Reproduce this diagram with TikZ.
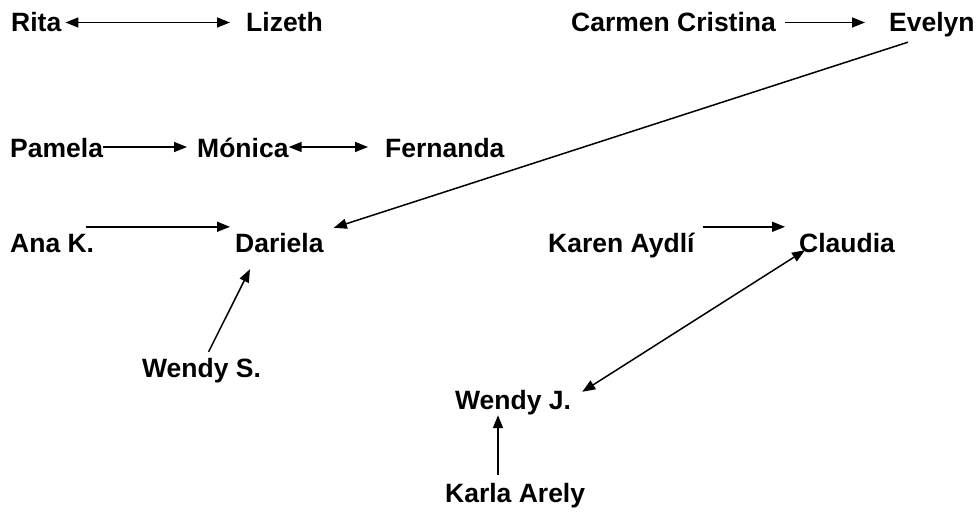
\documentclass[tikz,border=0pt]{standalone}
\usepackage{fontspec}
\setmainfont{Liberation Sans}
\usetikzlibrary{arrows.meta}
\begin{document}
\begin{tikzpicture}[x=1pt,y=1pt,
  person/.style={anchor=base west,inner sep=0pt,text height=19pt,text depth=0pt,
    font=\fontsize{26.5}{30}\selectfont\bfseries},
  tip/.style={Triangle[length=13pt,width=10pt]},
  arr/.style={line width=1.5pt,-{Triangle[length=13pt,width=10pt]}},
  darr/.style={line width=1.5pt,{Triangle[length=13pt,width=10pt]}-{Triangle[length=13pt,width=10pt]}}]
\useasboundingbox[fill=white] (0,0) rectangle (980,514);
\node[person] (rita) at (11,482) {Rita};
\node[person] (lizeth) at (246,482) {Lizeth};
\node[person] (carmen) at (571,482) {Carmen Cristina};
\node[person] (evelyn) at (889,482) {Evelyn};
\node[person] (pamela) at (10,356) {Pamela};
\node[person] (monica) at (197,356) {Mónica};
\node[person] (fernanda) at (385,356) {Fernanda};
\node[person] (ana) at (10,261) {Ana K.};
\node[person] (dariela) at (235,261) {Dariela};
\node[person] (karen) at (548,261) {Karen Aydlí};
\node[person] (claudia) at (799,261) {Claudia};
\node[person] (wendys) at (142,136) {Wendy S.};
\node[person] (wendyj) at (455,104) {Wendy J.};
\node[person] (karla) at (445,11) {Karla Arely};
\draw[darr] ([xshift=4pt]rita.east) -- ([xshift=-16pt]lizeth.west);
\draw[arr] ([xshift=9pt]carmen.east) -- ([xshift=-24pt]evelyn.west);
\draw[arr] ([shift={(-24,-10)}]evelyn.south) -- ([shift={(10,6)}]dariela.north east);
\draw[arr] ([shift={(0,1.5)}]pamela.east) -- ([shift={(-10,1.5)}]monica.west);
\draw[darr] ([shift={(0,1.5)}]monica.east) -- ([shift={(-17,1.5)}]fernanda.west);
\draw[arr] ([shift={(-8,7)}]ana.north east) -- ([shift={(-5,7)}]dariela.north west);
\draw[arr] ([shift={(8,7)}]karen.north east) -- ([shift={(-14,7)}]claudia.north west);
\draw[darr] ([shift={(6,3)}]claudia.south west) -- ([shift={(11,-1)}]wendyj.north east);
\draw[arr] ([shift={(7,7)}]wendys.north) -- ([shift={(15,-16)}]dariela.south west);
\draw[arr] ([shift={(53,9)}]karla.north west) -- ([shift={(43,-5)}]wendyj.south west);
\end{tikzpicture}
\end{document}
